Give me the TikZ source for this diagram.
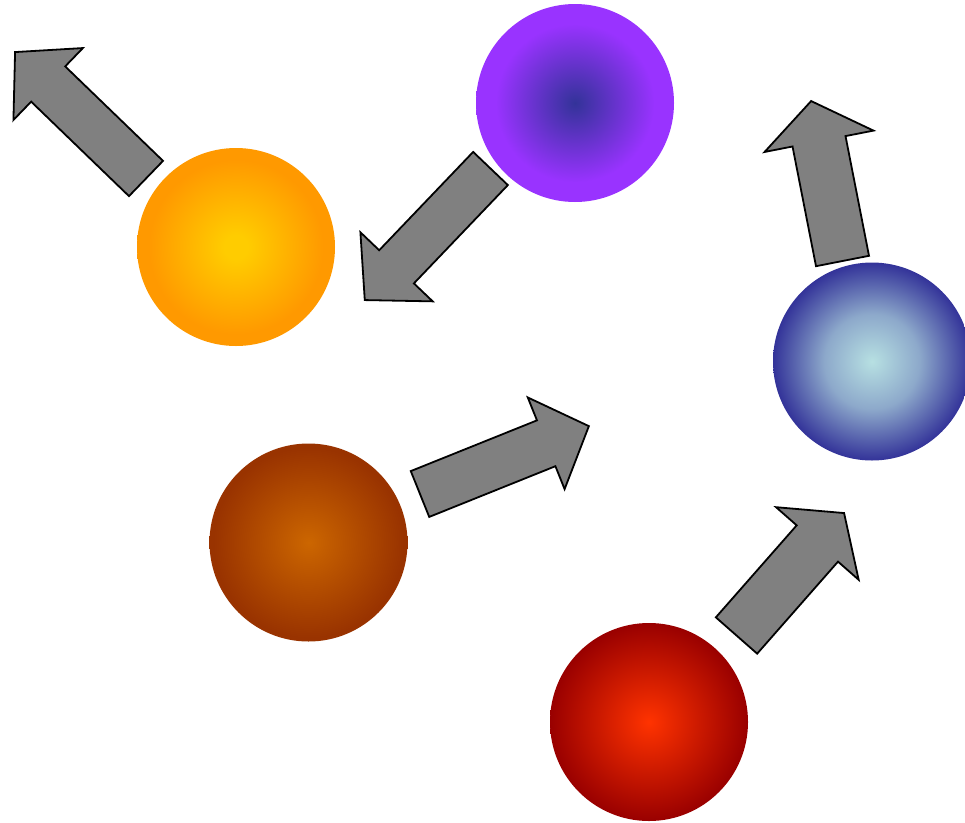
\documentclass[tikz,border=0pt]{standalone}
\definecolor{oyellow}{RGB}{255,204,0}
\definecolor{oorange}{RGB}{255,153,0}
\definecolor{pdark}{RGB}{51,51,153}
\definecolor{ppurple}{RGB}{153,51,255}
\definecolor{blight}{RGB}{183,224,226}
\definecolor{bdark}{RGB}{51,51,153}
\colorlet{bmid}{blight!68!bdark}
\definecolor{brcenter}{RGB}{204,102,0}
\definecolor{bredge}{RGB}{153,51,0}
\definecolor{rcenter}{RGB}{255,51,0}
\definecolor{redge}{RGB}{153,0,0}
\pgfdeclareradialshading{shorange}{\pgfpoint{0bp}{0bp}}{color(0bp)=(oyellow); color(3bp)=(oyellow); color(22bp)=(oorange); color(50bp)=(oorange)}
\pgfdeclareradialshading{shpurple}{\pgfpoint{0bp}{0bp}}{color(0bp)=(pdark); color(20bp)=(ppurple); color(50bp)=(ppurple)}
\pgfdeclareradialshading{shblue}{\pgfpoint{0bp}{0bp}}{color(0bp)=(blight); color(12bp)=(bmid); color(25bp)=(bdark); color(50bp)=(bdark)}
\pgfdeclareradialshading{shbrown}{\pgfpoint{0bp}{0bp}}{color(0bp)=(brcenter); color(24bp)=(bredge); color(50bp)=(bredge)}
\pgfdeclareradialshading{shred}{\pgfpoint{0bp}{0bp}}{color(0bp)=(rcenter); color(25bp)=(redge); color(50bp)=(redge)}
\tikzset{
  ball/.style={circle, minimum size=198pt, inner sep=0pt},
  arrowbody/.style={draw=black, fill={rgb,255:red,128;green,128;blue,128}, line width=1.8pt, line join=miter},
  pics/fatarrow/.style n args={4}{code={
    \draw[arrowbody] (0,-#2) -- (#1-#4,-#2) -- (#1-#4,-#3) -- (#1,0) -- (#1-#4,#3) -- (#1-#4,#2) -- (0,#2) -- cycle;
  }}
}
\begin{document}
\begin{tikzpicture}[x=1pt,y=-1pt]
\useasboundingbox (0,0) rectangle (965,822);
\node[ball, shading=shorange] (orange) at (236,247) {};
\node[ball, shading=shpurple] (purple) at (575,103) {};
\node[ball, shading=shblue] (blue) at (872,361.5) {};
\node[ball, shading=shbrown] (brown) at (308.5,542.5) {};
\node[ball, shading=shred] (red) at (649,722) {};
\pic[rotate=136] (a1) at (146,178.5) {fatarrow={182}{24.5}{50}{46}};
\pic[rotate=226.3] (a2) at (490.5,168.5) {fatarrow={182}{24}{50}{46}};
\pic[rotate=101.1] (a3) at (842.5,261) {fatarrow={163}{27}{55.5}{41}};
\pic[rotate=21.9] (a4) at (420,494) {fatarrow={182}{24.7}{49.4}{46}};
\pic[rotate=48.7] (a5) at (736.5,635.5) {fatarrow={163}{27.5}{55}{40.5}};
\end{tikzpicture}
\end{document}
